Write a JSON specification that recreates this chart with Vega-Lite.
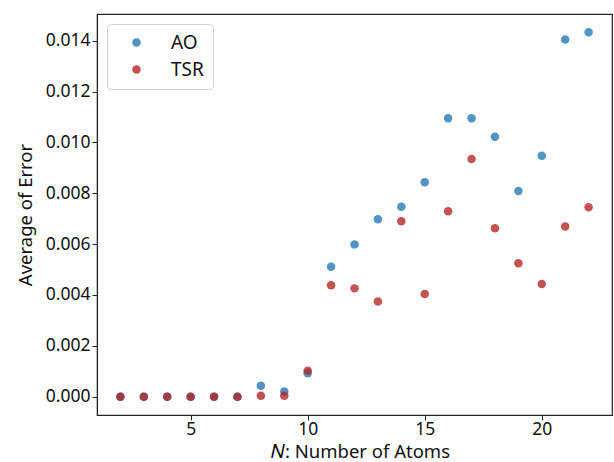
{
  "$schema": "https://vega.github.io/schema/vega-lite/v6.json",
  "width": 515,
  "height": 401,
  "autosize": {"type": "none"},
  "padding": {"left": 97, "top": 14, "right": 2, "bottom": 47},
  "background": "white",
  "config": {
    "font": "Noto Sans",
    "view": {"stroke": "#222", "strokeWidth": 1.2},
    "axis": {"labelFont": "Noto Sans", "titleFont": "Noto Sans", "labelColor": "#111", "titleColor": "#111", "labelFontSize": 17.5, "titleFontSize": 18.5, "titleFontWeight": "normal", "domainColor": "#222", "tickColor": "#222", "tickSize": 5, "grid": false}
  },
  "data": {"values": [
    {"n": 2, "s": "AO", "v": 0}, {"n": 3, "s": "AO", "v": 0}, {"n": 4, "s": "AO", "v": 0}, {"n": 5, "s": "AO", "v": 0}, {"n": 6, "s": "AO", "v": 0}, {"n": 7, "s": "AO", "v": 0},
    {"n": 8, "s": "AO", "v": 0.00043}, {"n": 9, "s": "AO", "v": 0.0002}, {"n": 10, "s": "AO", "v": 0.00092}, {"n": 11, "s": "AO", "v": 0.00511},
    {"n": 12, "s": "AO", "v": 0.00599}, {"n": 13, "s": "AO", "v": 0.00698}, {"n": 14, "s": "AO", "v": 0.00747}, {"n": 15, "s": "AO", "v": 0.00843},
    {"n": 16, "s": "AO", "v": 0.01095}, {"n": 17, "s": "AO", "v": 0.01095}, {"n": 18, "s": "AO", "v": 0.01022}, {"n": 19, "s": "AO", "v": 0.00809},
    {"n": 20, "s": "AO", "v": 0.00948}, {"n": 21, "s": "AO", "v": 0.01405}, {"n": 22, "s": "AO", "v": 0.01433},
    {"n": 2, "s": "TSR", "v": 0}, {"n": 3, "s": "TSR", "v": 0}, {"n": 4, "s": "TSR", "v": 0}, {"n": 5, "s": "TSR", "v": 0}, {"n": 6, "s": "TSR", "v": 0}, {"n": 7, "s": "TSR", "v": 0},
    {"n": 8, "s": "TSR", "v": 0.00004}, {"n": 9, "s": "TSR", "v": 0.00004}, {"n": 10, "s": "TSR", "v": 0.00102}, {"n": 11, "s": "TSR", "v": 0.00438},
    {"n": 12, "s": "TSR", "v": 0.00426}, {"n": 13, "s": "TSR", "v": 0.00374}, {"n": 14, "s": "TSR", "v": 0.0069}, {"n": 15, "s": "TSR", "v": 0.00404},
    {"n": 16, "s": "TSR", "v": 0.00729}, {"n": 17, "s": "TSR", "v": 0.00935}, {"n": 18, "s": "TSR", "v": 0.00662}, {"n": 19, "s": "TSR", "v": 0.00525},
    {"n": 20, "s": "TSR", "v": 0.00443}, {"n": 21, "s": "TSR", "v": 0.00669}, {"n": 22, "s": "TSR", "v": 0.00745}
  ]},
  "mark": {"type": "point", "filled": true, "size": 72, "opacity": 0.78, "strokeWidth": 0.6},
  "encoding": {
    "x": {"field": "n", "type": "quantitative", "scale": {"domain": [1, 23], "nice": false, "zero": false}, "axis": {"values": [5, 10, 15, 20], "title": "𝑁: Number of Atoms", "labelPadding": 0, "titlePadding": 5, "titleX": 263}},
    "y": {"field": "v", "type": "quantitative", "scale": {"domain": [-0.00072, 0.01505], "nice": false, "zero": false}, "axis": {"values": [0, 0.002, 0.004, 0.006, 0.008, 0.01, 0.012, 0.014], "format": ".3f", "title": "Average of Error", "titlePadding": 10}},
    "color": {"field": "s", "type": "nominal", "scale": {"domain": ["AO", "TSR"], "range": ["#1f77b4", "#b22222"]},
      "legend": {"title": null, "orient": "none", "legendX": 10, "legendY": 10, "labelFontSize": 19, "labelFont": "Noto Sans", "labelColor": "#111", "symbolSize": 72, "symbolOpacity": 0.78, "symbolOffset": 11, "labelOffset": 25, "rowPadding": 7, "padding": 9, "strokeColor": "#d0d0d0", "fillColor": "white", "cornerRadius": 4, "symbolType": "circle"}},
    "order": {"field": "s", "sort": "ascending"}
  }
}
